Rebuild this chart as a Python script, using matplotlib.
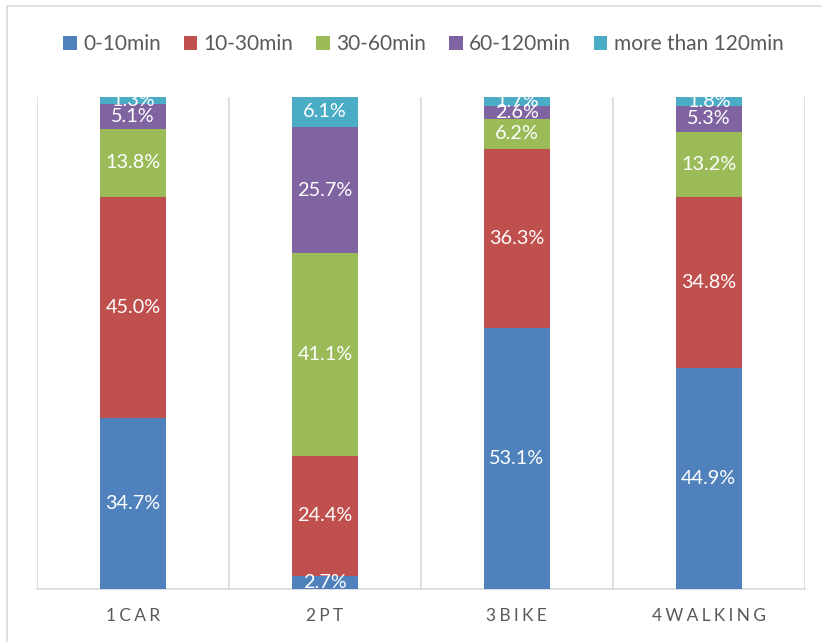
import numpy as np
import matplotlib
matplotlib.use("Agg")
import matplotlib.pyplot as plt
from matplotlib.patches import Rectangle

plt.rcParams['font.family'] = ['Lato', 'DejaVu Sans']

# travel time share per mode (%)
modes = ["1CAR", "2PT", "3BIKE", "4WALKING"]
bands = ["0-10min", "10-30min", "30-60min", "60-120min", "more than 120min"]
t_0_10 = [34.7, 2.7, 53.1, 44.9]
t_10_30 = [45.0, 24.4, 36.3, 34.8]
t_30_60 = [13.8, 41.1, 6.2, 13.2]
t_60_120 = [5.1, 25.7, 2.6, 5.3]
t_120p = [1.3, 6.1, 1.7, 1.8]

colors = ["#4F81BD", "#C0504D", "#9BBB59", "#8064A2", "#4BACC6"]
series = [t_0_10, t_10_30, t_30_60, t_60_120, t_120p]

fig = plt.figure(figsize=(8.22, 6.42), dpi=100)
fig.patches.append(Rectangle((0.009, -0.01), 1.0, 1.0, transform=fig.transFigure,
                             fill=False, ec="#D9D9D9", lw=1.2))
ax = fig.add_axes([0.045, 0.0826, 0.934, 0.7664])

x = np.arange(len(modes))
bottom = np.zeros(len(modes))
for name, vals, c in zip(bands, series, colors):
    vals = np.array(vals)
    ax.bar(x, vals, bottom=bottom, width=0.345, color=c, label=name, zorder=3)
    for xi, b, v in zip(x, bottom, vals):
        ax.text(xi, b + v / 2, f"{v:.1f}%", ha="center", va="center",
                color="white", fontsize=14.3, zorder=4)
    bottom += vals

ax.set_xlim(-0.5, 3.5)
ax.set_ylim(0, 100)
ax.set_yticks([])
for b in np.arange(-0.5, 4.0, 1.0):
    ax.axvline(b, color="#D9D9D9", lw=1.2, zorder=1)
for s in ["top", "left", "right"]:
    ax.spines[s].set_visible(False)
ax.spines["bottom"].set_color("#D9D9D9")
ax.spines["bottom"].set_linewidth(1.2)

# spaced-out category labels
ax.set_xticks(x)
ax.set_xticklabels(["\u2009\u200a".join(m) for m in modes], color="#595959", fontsize=12.5)
ax.tick_params(axis="x", length=0, pad=14)

fig.legend(loc="center", bbox_to_anchor=(0.515, 0.931), ncol=5, frameon=False,
           fontsize=15, handlelength=0.65, handleheight=0.65, handletextpad=0.3,
           columnspacing=1.1, labelcolor="#595959")

fig.savefig("out.png", dpi=100)
